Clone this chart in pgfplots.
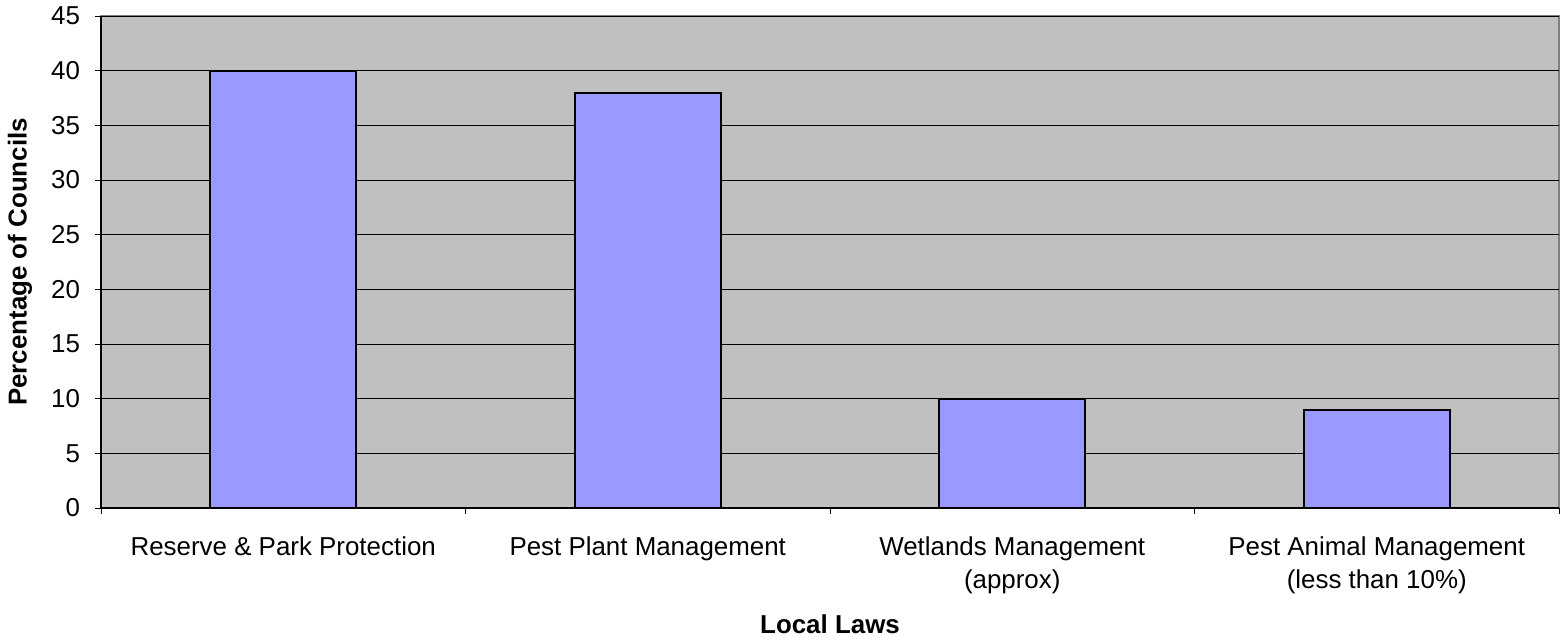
\documentclass[border=0pt]{standalone}
\usepackage{fontspec}
\setmainfont{Liberation Sans}
\usepackage{pgfplots}
\pgfplotsset{compat=1.18}
\definecolor{bgGray}{HTML}{C0C0C0}
\definecolor{frameGray}{HTML}{808080}
\definecolor{barBlue}{HTML}{9999FF}
\begin{document}
\begin{tikzpicture}
\useasboundingbox (-50.5bp,-64.5bp) rectangle (729.5bp,254bp);
\begin{axis}[
  at={(0,0)}, anchor=south west,
  scale only axis, width=729bp, height=246bp,
  /pgf/number format/assume math mode=true,
  font=\fontsize{13}{16.5}\selectfont,
  ymin=0, ymax=45, ytick={0,5,...,45},
  xmin=-0.5, xmax=3.5,
  xtick={-0.5,0.5,1.5,2.5,3.5},
  x tick label as interval,
  xticklabels={Reserve \& Park Protection, Pest Plant Management, Wetlands Management\\(approx), Pest Animal Management\\(less than 10\%)},
  xticklabel style={align=center, anchor=north, yshift=-8bp},
  yticklabel style={xshift=-4bp},
  tick align=outside,
  major tick length=3bp,
  tick style={black, line width=0.5bp},
  axis lines*=left,
  axis line style={black, line width=0.6bp},
  axis background/.style={fill=bgGray, draw=frameGray, line width=1bp},
  ymajorgrids, grid style={black, line width=0.5bp},
  ylabel={\textbf{Percentage of Councils}},
  ylabel style={at={(axis description cs:-0.0555,0.5)}, anchor=center, rotate=0},
  xlabel={\textbf{Local Laws}},
  xlabel style={at={(axis description cs:0.5,0)}, anchor=center, yshift=-58bp},
]
\addplot[ybar, bar width=73bp, fill=barBlue, draw=black, line width=1bp] coordinates {(0,40) (1,38) (2,10) (3,9)};
\end{axis}
\end{tikzpicture}
\end{document}
